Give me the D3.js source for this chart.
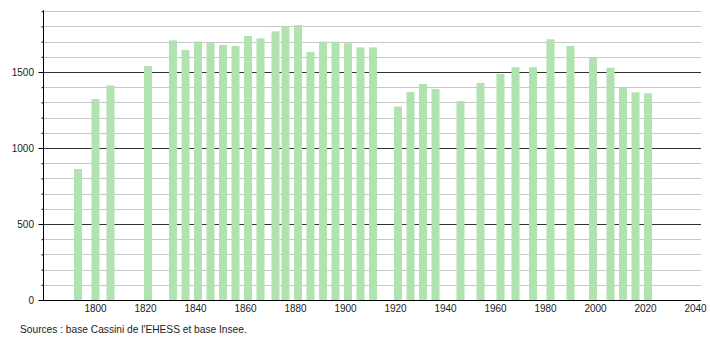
<!DOCTYPE html>
<html><head><meta charset="utf-8">
<script src="https://cdn.jsdelivr.net/npm/d3@7"></script>
<style>
body{margin:0;background:#fff;}
text{font-family:"Liberation Sans",Arial,sans-serif;}
</style></head>
<body><svg id="c" width="710" height="340"></svg>
<script>
const years = [1793,1800,1806,1821,1831,1836,1841,1846,1851,1856,1861,1866,1872,1876,1881,1886,1891,1896,1901,1906,1911,1921,1926,1931,1936,1946,1954,1962,1968,1975,1982,1990,1999,2006,2011,2016,2021];
const population = [862,1322,1412,1539,1708,1645,1700,1691,1678,1671,1737,1721,1768,1800,1809,1632,1700,1700,1689,1662,1662,1272,1368,1421,1388,1309,1428,1487,1531,1531,1715,1671,1592,1528,1395,1366,1360];
const xTickLabels = [1800,1820,1840,1860,1880,1900,1920,1940,1960,1980,2000,2020,2040];
const yTickLabels = [0,500,1000,1500];
const sourceText = "Sources : base Cassini de l'EHESS et base Insee.";

const svg = d3.select("#c");
const x = d3.scaleLinear().domain([1779.2, 2042.4]).range([43.5, 701.5]);
const y = d3.scaleLinear().domain([0, 1900]).range([300, 11.2]);

// minor grid
const minor = d3.range(100, 1901, 100).filter(v => v % 500 !== 0);
svg.append("g").selectAll("line").data(minor).join("line")
  .attr("x1", 44).attr("x2", 701)
  .attr("y1", d => Math.round(y(d)) + 0.5).attr("y2", d => Math.round(y(d)) + 0.5)
  .attr("stroke", "#c8c8c8").attr("stroke-width", 1);
svg.append("g").selectAll("line").data(yTickLabels.filter(v => v > 0)).join("line")
  .attr("x1", 44).attr("x2", 701)
  .attr("y1", d => Math.round(y(d)) + 0.5).attr("y2", d => Math.round(y(d)) + 0.5)
  .attr("stroke", "#333").attr("stroke-width", 1);

// bars
const bw = 8;
svg.append("g").selectAll("rect").data(years).join("rect")
  .attr("x", d => x(d) - bw / 2)
  .attr("width", bw)
  .attr("y", (d, i) => y(population[i]))
  .attr("height", (d, i) => y(0) - y(population[i]))
  .attr("fill", "#b0e3b0");

// y axis
const yAxis = d3.axisLeft(y).tickValues(d3.range(0, 1901, 100)).tickSize(2).tickFormat("");
const ga = svg.append("g").attr("transform", "translate(43.5,0)").call(yAxis);
ga.select(".domain").attr("d", `M0,${y(1900)-1}V300`).attr("stroke", "#000");
ga.selectAll(".tick line").attr("x2", d => d % 500 === 0 ? -5 : -2).attr("stroke", "#000");
svg.append("g").selectAll("text").data(yTickLabels).join("text")
  .attr("x", 34).attr("y", d => y(d) + 4)
  .attr("text-anchor", "end").attr("font-size", 10).attr("fill", "#222")
  .text(d => d);

// x axis
svg.append("line").attr("x1", 39).attr("x2", 701).attr("y1", 300.5).attr("y2", 300.5).attr("stroke", "#000");
svg.append("g").selectAll("text").data(xTickLabels).join("text")
  .attr("x", d => x(d)).attr("y", 312)
  .attr("text-anchor", "middle").attr("font-size", 10).attr("fill", "#222")
  .text(d => d);

svg.append("text").attr("x", 20).attr("y", 333).attr("font-size", 10.2).attr("fill", "#222").text(sourceText);
</script></body></html>
